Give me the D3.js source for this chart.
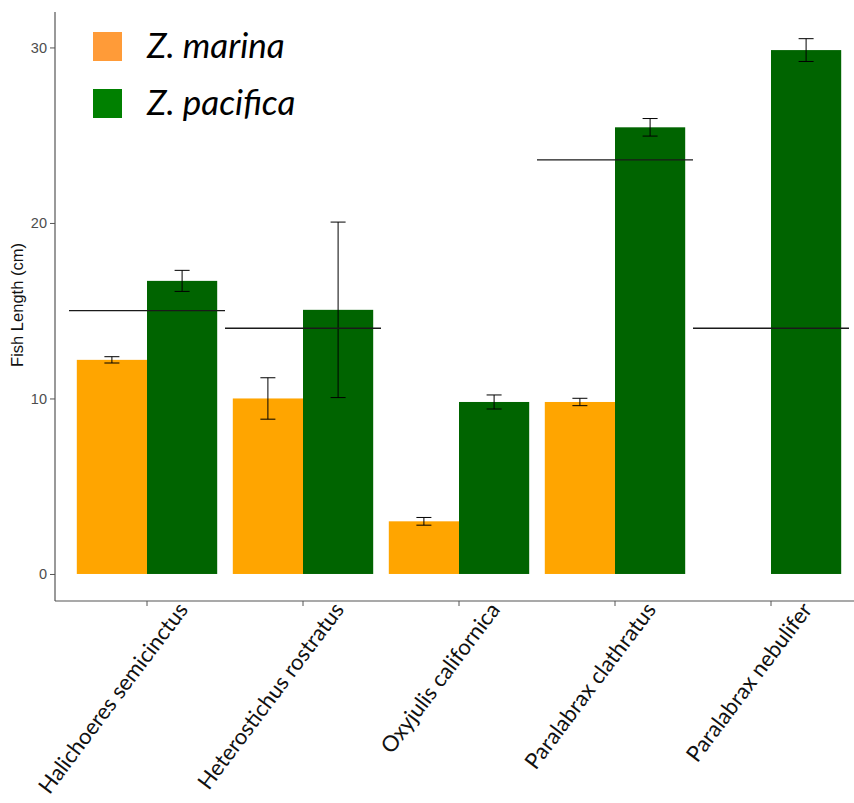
<!DOCTYPE html>
<html>
<head>
<meta charset="utf-8">
<script src="https://cdn.jsdelivr.net/npm/d3@7"></script>
<style>
  html, body { margin: 0; padding: 0; background: #ffffff; }
  svg { display: block; }
</style>
</head>
<body>
<svg id="chart" width="854" height="803"></svg>
<script>
// Species on the x axis
const species = [
  "Halichoeres semicinctus",
  "Heterostichus rostratus",
  "Oxyjulis californica",
  "Paralabrax clathratus",
  "Paralabrax nebulifer"
];

// Seagrass habitats (legend entries)
const habitats = ["Z. marina", "Z. pacifica"];

// Mean fish length (cm) and standard error for each habitat
const marinaMean = [12.2, 10.0, 3.0, 9.8, null];
const marinaSE   = [0.18, 1.18, 0.22, 0.21, null];
const pacificaMean = [16.7, 15.05, 9.8, 25.45, 29.85];
const pacificaSE   = [0.6, 5.0, 0.4, 0.5, 0.65];

// Reference length per species (horizontal lines)
const referenceLength = [15, 14, null, 23.6, 14];

// Y axis ticks
const yTicks = [0, 10, 20, 30];

const svg = d3.select("#chart");

const plot = { left: 55, right: 854, top: 12, bottom: 601 };

const x = d3.scaleBand()
  .domain(species)
  .range([69, 849])
  .padding(0);

const xInner = d3.scaleBand()
  .domain(habitats)
  .range([x.bandwidth() * 0.05, x.bandwidth() * 0.95])
  .padding(0);

const y = d3.scaleLinear()
  .domain([-1.54, 32.02])
  .range([plot.bottom, plot.top]);

const barColor = d3.scaleOrdinal().domain(habitats).range(["#FFA500", "#006400"]);
const legendColor = d3.scaleOrdinal().domain(habitats).range(["#FF9B38", "#008000"]);

// Flatten the series into one record per bar
const records = [];
species.forEach((s, i) => {
  records.push({ species: s, habitat: habitats[0], mean: marinaMean[i], se: marinaSE[i] });
  records.push({ species: s, habitat: habitats[1], mean: pacificaMean[i], se: pacificaSE[i] });
});
const bars = records.filter(d => d.mean != null);

// Bars
svg.append("g")
  .selectAll("rect")
  .data(bars)
  .join("rect")
  .attr("x", d => x(d.species) + xInner(d.habitat))
  .attr("width", xInner.bandwidth())
  .attr("y", d => y(d.mean))
  .attr("height", d => y(0) - y(d.mean))
  .attr("fill", d => barColor(d.habitat));

// Error bars
const capHalf = 7.5;
const err = svg.append("g")
  .attr("stroke", "#000")
  .attr("stroke-width", 1);
bars.forEach(d => {
  const cx = x(d.species) + xInner(d.habitat) + xInner.bandwidth() / 2;
  const hi = y(d.mean + d.se), lo = y(d.mean - d.se);
  err.append("line").attr("x1", cx).attr("x2", cx).attr("y1", hi).attr("y2", lo);
  err.append("line").attr("x1", cx - capHalf).attr("x2", cx + capHalf).attr("y1", hi).attr("y2", hi);
  err.append("line").attr("x1", cx - capHalf).attr("x2", cx + capHalf).attr("y1", lo).attr("y2", lo);
});

// Reference length lines spanning each species band
svg.append("g")
  .selectAll("line")
  .data(species.map((s, i) => ({ species: s, value: referenceLength[i] })).filter(d => d.value != null))
  .join("line")
  .attr("x1", d => x(d.species))
  .attr("x2", d => x(d.species) + x.bandwidth())
  .attr("y1", d => y(d.value))
  .attr("y2", d => y(d.value))
  .attr("stroke", "#1a1a1a")
  .attr("stroke-width", 1.3);

// Y axis
const yAxis = svg.append("g")
  .attr("transform", `translate(${plot.left},0)`)
  .call(d3.axisLeft(y).tickValues(yTicks).tickSize(5).tickPadding(3).tickSizeOuter(0));
yAxis.select(".domain").remove();
yAxis.selectAll(".tick line").attr("stroke", "#555");
yAxis.selectAll(".tick text")
  .attr("fill", "#4d4d4d")
  .style("font-family", "'Liberation Sans', Arial, sans-serif")
  .style("font-size", "14.5px");

svg.append("line")
  .attr("x1", plot.left).attr("x2", plot.left)
  .attr("y1", plot.top).attr("y2", plot.bottom)
  .attr("stroke", "#555").attr("stroke-width", 1.2);

// X axis
const xAxis = svg.append("g")
  .attr("transform", `translate(0,${plot.bottom})`)
  .call(d3.axisBottom(x).tickSize(5).tickSizeOuter(0).tickFormat(""));
xAxis.select(".domain").remove();
xAxis.selectAll(".tick line").attr("stroke", "#555");

svg.append("line")
  .attr("x1", plot.left).attr("x2", plot.right)
  .attr("y1", plot.bottom).attr("y2", plot.bottom)
  .attr("stroke", "#555").attr("stroke-width", 1.2);

// Rotated species labels
svg.append("g")
  .selectAll("text")
  .data(species)
  .join("text")
  .attr("transform", d => `translate(${x(d) + x.bandwidth() / 2 + 42},${plot.bottom + 9}) rotate(-53)`)
  .attr("text-anchor", "end")
  .style("font-family", "Lato, 'Open Sans', sans-serif")
  .style("font-size", "22px")
  .attr("fill", "#111")
  .text(d => d);

// Y axis title
svg.append("text")
  .attr("transform", `translate(23,305) rotate(-90)`)
  .attr("text-anchor", "middle")
  .style("font-family", "'Liberation Sans', Arial, sans-serif")
  .style("font-size", "16.5px")
  .attr("fill", "#111")
  .text("Fish Length (cm)");

// Legend
const legend = svg.append("g");
habitats.forEach((h, i) => {
  const top = 32 + i * 57;
  legend.append("rect")
    .attr("x", 93).attr("y", top)
    .attr("width", 29).attr("height", 29)
    .attr("fill", legendColor(h));
  legend.append("text")
    .attr("x", 147).attr("y", top + 26)
    .style("font-family", "Lato, 'Open Sans', sans-serif")
    .style("font-style", "italic")
    .style("font-size", "35px")
    .attr("fill", "#000")
    .text(h);
});
</script>
</body>
</html>
